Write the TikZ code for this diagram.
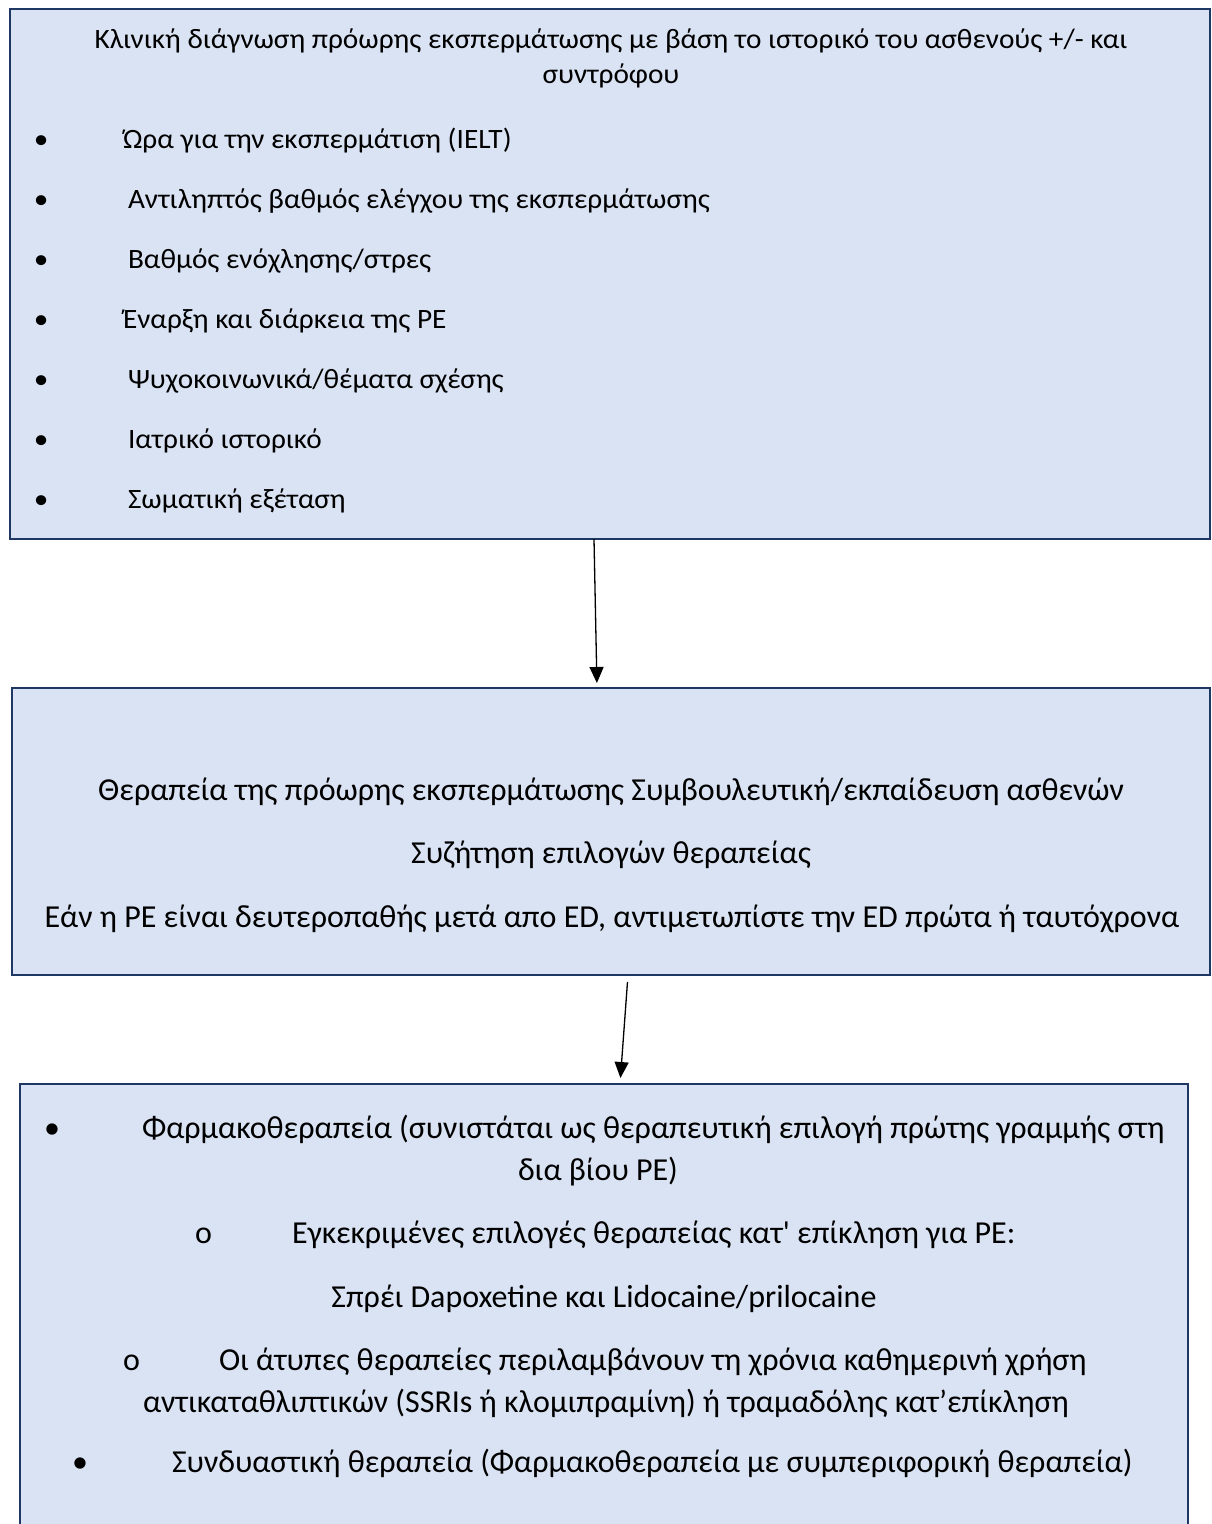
\documentclass[tikz,border=0pt]{standalone}
\usepackage{fontspec}
\setmainfont{Carlito}[Ligatures=TeXOff]
\newfontfamily\wideface{Carlito}[Ligatures=TeXOff, FakeStretch=1.046]
\usetikzlibrary{arrows.meta}

\definecolor{boxfill}{HTML}{DAE3F3}
\definecolor{boxline}{HTML}{1F3763}

\tikzset{
  panel/.style={draw=boxline, line width=2.6pt, fill=boxfill, rectangle,
                inner sep=0pt, outer sep=0pt},
  txt/.style={inner sep=0pt, outer sep=0pt, anchor=base,
              font=\fontsize{32}{38}\selectfont},
  ltxt/.style={txt, anchor=base west},
  stxt/.style={inner sep=0pt, outer sep=0pt, anchor=base,
              font=\wideface\fontsize{28}{33}\selectfont},
  sltxt/.style={stxt, anchor=base west},
  flow/.style={line width=1.3pt, -{Triangle[length=16pt,width=14pt]}},
}

\begin{document}
\begin{tikzpicture}[x=1pt,y=-1pt]
\useasboundingbox (0,0) rectangle (1212,1524);
\clip (0,0) rectangle (1212,1524);

% panels
\node[panel, minimum width=1200pt, minimum height=530pt] (b1) at (610,274) {};
\node[panel, minimum width=1198pt, minimum height=287pt] (b2) at (611,831.5) {};
\node[panel, minimum width=1168pt, minimum height=470pt] (b3) at (604,1319) {};

% first panel: diagnosis
\node[stxt] (t1a) at (611,48) {Κλινική διάγνωση πρόωρης εκσπερμάτωσης με βάση το ιστορικό του ασθενούς +/- και};
\node[stxt] (t1b) at (611,83) {συντρόφου};
\foreach \yy/\tx/\xs [count=\i] in {
   148/{Ώρα για την εκσπερμάτιση (IELT)}/123,
   208/{Αντιληπτός βαθμός ελέγχου της εκσπερμάτωσης}/128,
   268/{Βαθμός ενόχλησης/στρες}/128,
   328/{Έναρξη και διάρκεια της PE}/123,
   388/{Ψυχοκοινωνικά/θέματα σχέσης}/128,
   448/{Ιατρικό ιστορικό}/128,
   508/{Σωματική εξέταση}/128} {
  \node[sltxt] (d\i) at (34,\yy) {•};
  \node[sltxt] (e\i) at (\xs,\yy) {\tx};
}

% second panel: treatment
\node[txt] (t2a) at (611,800) {Θεραπεία της πρόωρης εκσπερμάτωσης Συμβουλευτική/εκπαίδευση ασθενών};
\node[txt] (t2b) at (611,863) {Συζήτηση επιλογών θεραπείας};
\node[txt] (t2c) at (612,927) {Εάν η PE είναι δευτεροπαθής μετά απο ED, αντιμετωπίστε την ED πρώτα ή ταυτόχρονα};

% third panel: options
\node[ltxt] (p1) at (44,1138) {•};
\node[ltxt] (p1t) at (142,1138) {Φαρμακοθεραπεία (συνιστάται ως θεραπευτική επιλογή πρώτης γραμμής στη};
\node[txt] (p1u) at (598,1180) {δια βίου PE)};
\node[ltxt] (q1) at (195,1243) {o};
\node[ltxt] (q1t) at (292,1243) {Εγκεκριμένες επιλογές θεραπείας κατ' επίκληση για PE:};
\node[txt] (q1u) at (604,1307) {Σπρέι Dapoxetine και Lidocaine/prilocaine};
\node[ltxt] (q2) at (123,1370) {o};
\node[ltxt] (q2t) at (219,1370) {Οι άτυπες θεραπείες περιλαμβάνουν τη χρόνια καθημερινή χρήση};
\node[ltxt] (q2u) at (143,1412) {αντικαταθλιπτικών (SSRIs ή κλομιπραμίνη) ή τραμαδόλης κατ’επίκληση};
\node[ltxt] (p2) at (72,1472) {•};
\node[ltxt] (p2t) at (172,1472) {Συνδυαστική θεραπεία (Φαρμακοθεραπεία με συμπεριφορική θεραπεία)};

% connectors
\draw[flow, shorten >=5pt] ([xshift=-16pt]b1.south) -- ([xshift=-14pt]b2.north);
\draw[flow, shorten <=7pt, shorten >=6pt] ([xshift=17pt]b2.south) -- ([xshift=16pt]b3.north);
\end{tikzpicture}
\end{document}
